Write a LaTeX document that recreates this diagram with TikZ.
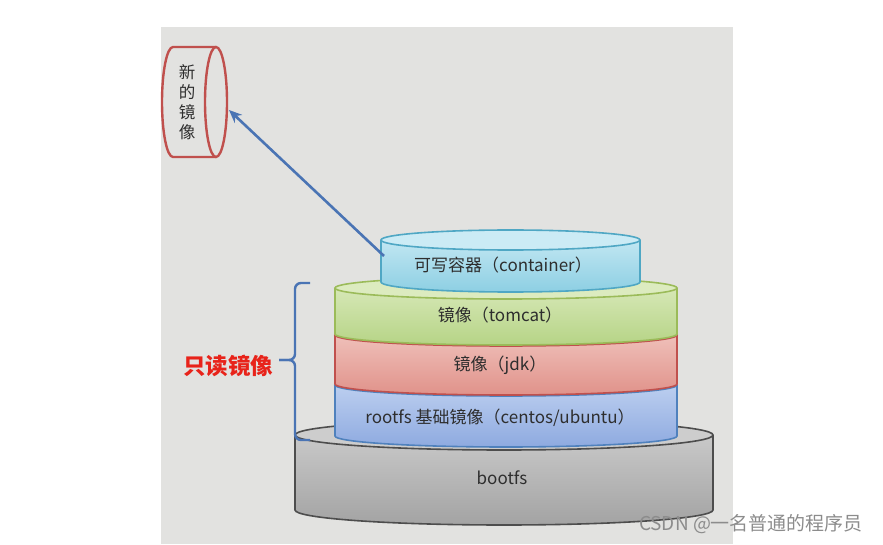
\documentclass[tikz,border=0pt]{standalone}
\usepackage{fontspec}
\newfontfamily\cjk{Noto Sans CJK SC}
\usetikzlibrary{arrows.meta}
\definecolor{bgray}{HTML}{E2E2E0}
\definecolor{arrowblue}{HTML}{4A74B4}
\definecolor{redline}{HTML}{C0504D}
\definecolor{labelred}{HTML}{E8231A}
\definecolor{txt}{HTML}{2E2E2E}
\definecolor{grayT}{HTML}{CFCFCF}
\definecolor{grayB}{HTML}{A3A3A3}
\definecolor{grayL}{HTML}{CDCDCD}
\definecolor{grayS}{HTML}{4D4D4D}
\definecolor{blueT}{HTML}{C4D5F2}
\definecolor{blueB}{HTML}{8EAAE0}
\definecolor{blueS}{HTML}{4F81BD}
\definecolor{redT}{HTML}{F2C8C2}
\definecolor{redB}{HTML}{E0928A}
\definecolor{redS}{HTML}{C0504D}
\definecolor{greenT}{HTML}{DCEBBF}
\definecolor{greenB}{HTML}{B6D486}
\definecolor{greenS}{HTML}{9BBB59}
\definecolor{cyanT}{HTML}{CBEBF5}
\definecolor{cyanB}{HTML}{8DCFE3}
\definecolor{cyanS}{HTML}{4FA7C4}
% cylinder: cx, rx, ytop, ybot, ry, topcolor, bottomcolor, stroke, lidcolor
\newcommand\mycyl[9]{%
  \shade[top color=#6,bottom color=#7]
    (#1-#2,#3) -- (#1-#2,#4) arc[start angle=180,end angle=360,x radius=#2pt,y radius=#5pt]
    -- (#1+#2,#3) arc[start angle=0,end angle=180,x radius=#2pt,y radius=#5pt] -- cycle;
  \fill[#9] (#1,#3) ellipse[x radius=#2pt,y radius=#5pt];
  \draw[#8,line width=1.6pt]
    (#1-#2,#3) -- (#1-#2,#4) arc[start angle=180,end angle=360,x radius=#2pt,y radius=#5pt]
    -- (#1+#2,#3);
  \draw[#8,line width=1.6pt] (#1,#3) ellipse[x radius=#2pt,y radius=#5pt];
}
\tikzset{
  lbl/.style={font=\cjk\fontsize{17}{20}\selectfont, text=txt, inner sep=0pt},
  bracestyle/.style={draw=arrowblue, line width=2.4pt, rounded corners=6pt},
}
\begin{document}
\begin{tikzpicture}[x=1pt,y=1pt]
\useasboundingbox (0,0) rectangle (883,544);
\fill[white] (0,0) rectangle (883,544);
\fill[bgray] (161,0) rectangle (733,517);

% layers
\mycyl{504}{209}{109}{34}{15}{grayT}{grayB}{grayS}{grayL}
\mycyl{506}{171}{159}{108}{11}{blueT}{blueB}{blueS}{blueT}
\mycyl{506}{171}{209}{160}{11}{redT}{redB}{redS}{redT}
\mycyl{506}{171}{256}{210}{11}{greenT}{greenB}{greenS}{greenT}
\mycyl{510.5}{129.5}{304}{262}{10}{cyanT}{cyanB}{cyanS}{cyanT}

\node[lbl] (bootfs) at (502,66) {bootfs};
\node[lbl] (rootfs) at (500,126) {rootfs 基础镜像（centos/ubuntu）};
\node[lbl] (jdk) at (500,179) {镜像（jdk）};
\node[lbl] (tomcat) at (500,229) {镜像（tomcat）};
\node[lbl] (container) at (503,279) {可写容器（container）};

% new image (horizontal cylinder)
\draw[redline,line width=2.4pt]
  (216,497) -- (173,497) arc[start angle=90,end angle=270,x radius=11pt,y radius=55pt] -- (216,387);
\draw[redline,line width=2.4pt] (216,442) ellipse[x radius=11pt,y radius=55pt];
\node[font=\cjk\fontsize{16.5}{20}\selectfont, text=txt, align=center, inner sep=0pt] (newimg) at (187,442) {新\\的\\镜\\像};

% arrow
\coordinate (cstart) at (384,288);
\coordinate (newend) at (229,434);
\draw[arrowblue, line width=2.6pt, -{Stealth[length=13pt,width=11pt]}] (cstart) -- (newend);

% brace
\coordinate (btop) at (310,261);
\coordinate (bbot) at (310,104);
\coordinate (btip) at (279,184);
\draw[bracestyle] (btop) -- (295,261) -- (295,184) -- (btip);
\draw[bracestyle] (btip) -- (295,184) -- (295,104) -- (bbot);
\node[font=\cjk\bfseries\fontsize{22.5}{25}\selectfont, text=labelred, inner sep=0pt] (ro) at (228,178) {只读镜像};

% watermark
\node[font=\cjk\fontsize{19}{21}\selectfont, text=black!45, inner sep=0pt] (wm) at (751,20) {CSDN @一名普通的程序员};
\end{tikzpicture}
\end{document}
